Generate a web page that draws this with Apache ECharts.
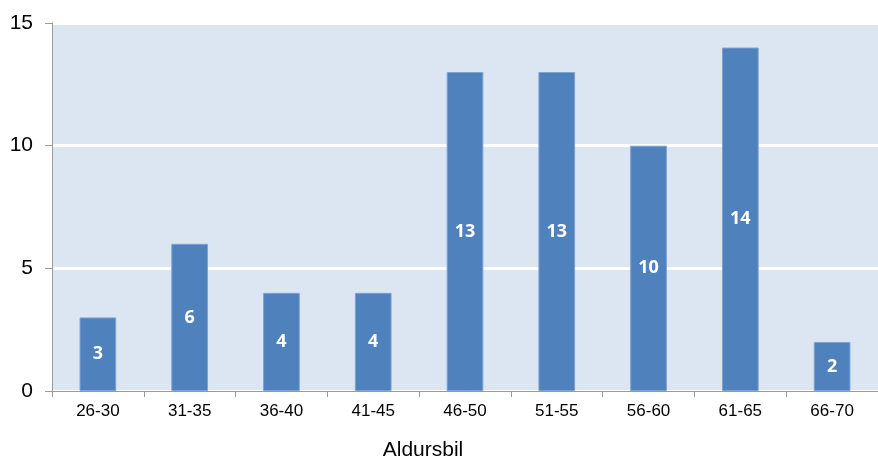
<!DOCTYPE html>
<html>
<head>
<meta charset="utf-8">
<script src="https://cdn.jsdelivr.net/npm/echarts@6/dist/echarts.min.js"></script>
<style>html,body{margin:0;padding:0;background:#fff}#c{width:878px;height:461px}</style>
</head>
<body>
<div id="c"></div>
<script>
const categories = ['26-30','31-35','36-40','41-45','46-50','51-55','56-60','61-65','66-70'];
const values = [3, 6, 4, 4, 13, 13, 10, 14, 2];
const yTicks = [0, 5, 10, 15];
const axisTitle = 'Aldursbil';

const chart = echarts.init(document.getElementById('c'), null, {renderer: 'canvas'});
chart.setOption({
  animation: false,
  backgroundColor: '#ffffff',
  grid: {
    left: 52, top: 23, width: 829, height: 368,
    show: true, backgroundColor: '#dce6f2', borderWidth: 0, containLabel: false
  },
  xAxis: {
    type: 'category',
    data: categories,
    axisLine: {show: true, lineStyle: {color: '#9a9a9a', width: 1}},
    axisTick: {show: true, alignWithLabel: false, length: 6, lineStyle: {color: '#9a9a9a'}},
    axisLabel: {color: '#000', fontSize: 17, fontFamily: 'Liberation Sans, Arial, sans-serif', margin: 12}
  },
  yAxis: {
    type: 'value',
    min: yTicks[0], max: yTicks[yTicks.length - 1], interval: 5,
    axisLine: {show: true, lineStyle: {color: '#9a9a9a', width: 1}},
    axisTick: {show: true, length: 7, lineStyle: {color: '#9a9a9a'}},
    axisLabel: {color: '#000', fontSize: 21, fontFamily: 'Liberation Sans, Arial, sans-serif', margin: 19},
    splitLine: {show: true, lineStyle: {color: '#ffffff', width: 3}}
  },
  graphic: [{
    type: 'text',
    x: 423, y: 450,
    style: {
      text: axisTitle, fill: '#000', fontSize: 21,
      fontFamily: 'Liberation Sans, Arial, sans-serif',
      align: 'center', verticalAlign: 'middle'
    }
  }],
  series: [{
    type: 'bar',
    data: values,
    barWidth: '40%',
    itemStyle: {color: '#4f81bd', borderColor: '#7ea3d2', borderWidth: 1},
    label: {
      show: true, position: 'inside', color: '#ffffff',
      fontSize: 18, fontWeight: 'bold', fontFamily: 'Open Sans, Liberation Sans, sans-serif'
    }
  }]
});
</script>
</body>
</html>
